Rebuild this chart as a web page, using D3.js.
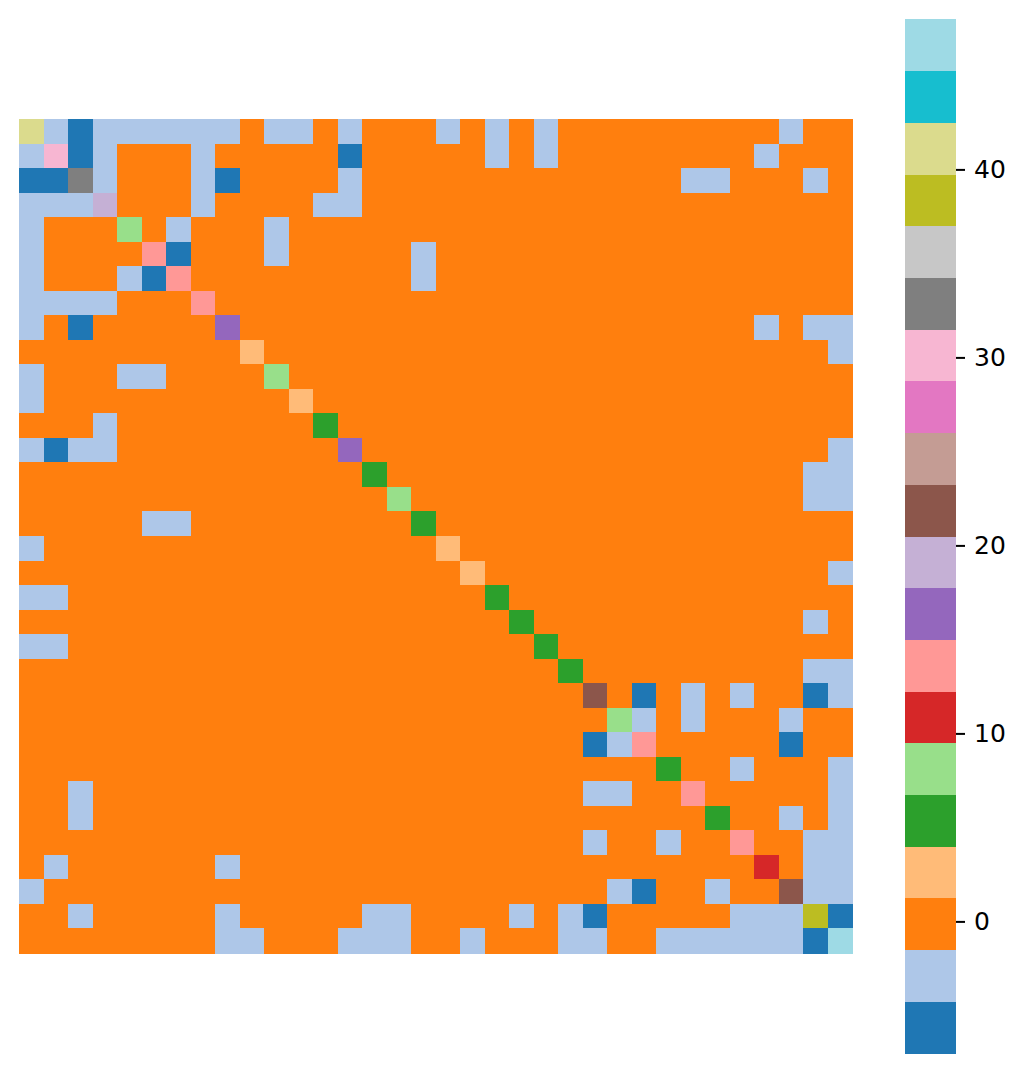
<!DOCTYPE html>
<html>
<head>
<meta charset="utf-8">
<script src="https://cdn.jsdelivr.net/npm/d3@7"></script>
<style>
  html, body { margin: 0; padding: 0; background: #fff; }
  svg { display: block; }
</style>
</head>
<body>
<svg id="heatmap-svg" width="1028" height="1073"></svg>
<script>
// matrix values, 34 x 34, row by row
const matrix = [
  [41,-2,-5,-2,-2,-2,-2,-2,-2, 0,-2,-2, 0,-2, 0, 0, 0,-2, 0,-2, 0,-2, 0, 0, 0, 0, 0, 0, 0, 0, 0,-2, 0, 0],
  [-2,30,-5,-2, 0, 0, 0,-2, 0, 0, 0, 0, 0,-5, 0, 0, 0, 0, 0,-2, 0,-2, 0, 0, 0, 0, 0, 0, 0, 0,-2, 0, 0, 0],
  [-5,-5,33,-2, 0, 0, 0,-2,-5, 0, 0, 0, 0,-2, 0, 0, 0, 0, 0, 0, 0, 0, 0, 0, 0, 0, 0,-2,-2, 0, 0, 0,-2, 0],
  [-2,-2,-2,19, 0, 0, 0,-2, 0, 0, 0, 0,-2,-2, 0, 0, 0, 0, 0, 0, 0, 0, 0, 0, 0, 0, 0, 0, 0, 0, 0, 0, 0, 0],
  [-2, 0, 0, 0, 8, 0,-2, 0, 0, 0,-2, 0, 0, 0, 0, 0, 0, 0, 0, 0, 0, 0, 0, 0, 0, 0, 0, 0, 0, 0, 0, 0, 0, 0],
  [-2, 0, 0, 0, 0,14,-5, 0, 0, 0,-2, 0, 0, 0, 0, 0,-2, 0, 0, 0, 0, 0, 0, 0, 0, 0, 0, 0, 0, 0, 0, 0, 0, 0],
  [-2, 0, 0, 0,-2,-5,14, 0, 0, 0, 0, 0, 0, 0, 0, 0,-2, 0, 0, 0, 0, 0, 0, 0, 0, 0, 0, 0, 0, 0, 0, 0, 0, 0],
  [-2,-2,-2,-2, 0, 0, 0,14, 0, 0, 0, 0, 0, 0, 0, 0, 0, 0, 0, 0, 0, 0, 0, 0, 0, 0, 0, 0, 0, 0, 0, 0, 0, 0],
  [-2, 0,-5, 0, 0, 0, 0, 0,16, 0, 0, 0, 0, 0, 0, 0, 0, 0, 0, 0, 0, 0, 0, 0, 0, 0, 0, 0, 0, 0,-2, 0,-2,-2],
  [ 0, 0, 0, 0, 0, 0, 0, 0, 0, 2, 0, 0, 0, 0, 0, 0, 0, 0, 0, 0, 0, 0, 0, 0, 0, 0, 0, 0, 0, 0, 0, 0, 0,-2],
  [-2, 0, 0, 0,-2,-2, 0, 0, 0, 0, 8, 0, 0, 0, 0, 0, 0, 0, 0, 0, 0, 0, 0, 0, 0, 0, 0, 0, 0, 0, 0, 0, 0, 0],
  [-2, 0, 0, 0, 0, 0, 0, 0, 0, 0, 0, 2, 0, 0, 0, 0, 0, 0, 0, 0, 0, 0, 0, 0, 0, 0, 0, 0, 0, 0, 0, 0, 0, 0],
  [ 0, 0, 0,-2, 0, 0, 0, 0, 0, 0, 0, 0, 5, 0, 0, 0, 0, 0, 0, 0, 0, 0, 0, 0, 0, 0, 0, 0, 0, 0, 0, 0, 0, 0],
  [-2,-5,-2,-2, 0, 0, 0, 0, 0, 0, 0, 0, 0,16, 0, 0, 0, 0, 0, 0, 0, 0, 0, 0, 0, 0, 0, 0, 0, 0, 0, 0, 0,-2],
  [ 0, 0, 0, 0, 0, 0, 0, 0, 0, 0, 0, 0, 0, 0, 5, 0, 0, 0, 0, 0, 0, 0, 0, 0, 0, 0, 0, 0, 0, 0, 0, 0,-2,-2],
  [ 0, 0, 0, 0, 0, 0, 0, 0, 0, 0, 0, 0, 0, 0, 0, 8, 0, 0, 0, 0, 0, 0, 0, 0, 0, 0, 0, 0, 0, 0, 0, 0,-2,-2],
  [ 0, 0, 0, 0, 0,-2,-2, 0, 0, 0, 0, 0, 0, 0, 0, 0, 5, 0, 0, 0, 0, 0, 0, 0, 0, 0, 0, 0, 0, 0, 0, 0, 0, 0],
  [-2, 0, 0, 0, 0, 0, 0, 0, 0, 0, 0, 0, 0, 0, 0, 0, 0, 2, 0, 0, 0, 0, 0, 0, 0, 0, 0, 0, 0, 0, 0, 0, 0, 0],
  [ 0, 0, 0, 0, 0, 0, 0, 0, 0, 0, 0, 0, 0, 0, 0, 0, 0, 0, 2, 0, 0, 0, 0, 0, 0, 0, 0, 0, 0, 0, 0, 0, 0,-2],
  [-2,-2, 0, 0, 0, 0, 0, 0, 0, 0, 0, 0, 0, 0, 0, 0, 0, 0, 0, 5, 0, 0, 0, 0, 0, 0, 0, 0, 0, 0, 0, 0, 0, 0],
  [ 0, 0, 0, 0, 0, 0, 0, 0, 0, 0, 0, 0, 0, 0, 0, 0, 0, 0, 0, 0, 5, 0, 0, 0, 0, 0, 0, 0, 0, 0, 0, 0,-2, 0],
  [-2,-2, 0, 0, 0, 0, 0, 0, 0, 0, 0, 0, 0, 0, 0, 0, 0, 0, 0, 0, 0, 5, 0, 0, 0, 0, 0, 0, 0, 0, 0, 0, 0, 0],
  [ 0, 0, 0, 0, 0, 0, 0, 0, 0, 0, 0, 0, 0, 0, 0, 0, 0, 0, 0, 0, 0, 0, 5, 0, 0, 0, 0, 0, 0, 0, 0, 0,-2,-2],
  [ 0, 0, 0, 0, 0, 0, 0, 0, 0, 0, 0, 0, 0, 0, 0, 0, 0, 0, 0, 0, 0, 0, 0,22, 0,-5, 0,-2, 0,-2, 0, 0,-5,-2],
  [ 0, 0, 0, 0, 0, 0, 0, 0, 0, 0, 0, 0, 0, 0, 0, 0, 0, 0, 0, 0, 0, 0, 0, 0, 8,-2, 0,-2, 0, 0, 0,-2, 0, 0],
  [ 0, 0, 0, 0, 0, 0, 0, 0, 0, 0, 0, 0, 0, 0, 0, 0, 0, 0, 0, 0, 0, 0, 0,-5,-2,14, 0, 0, 0, 0, 0,-5, 0, 0],
  [ 0, 0, 0, 0, 0, 0, 0, 0, 0, 0, 0, 0, 0, 0, 0, 0, 0, 0, 0, 0, 0, 0, 0, 0, 0, 0, 5, 0, 0,-2, 0, 0, 0,-2],
  [ 0, 0,-2, 0, 0, 0, 0, 0, 0, 0, 0, 0, 0, 0, 0, 0, 0, 0, 0, 0, 0, 0, 0,-2,-2, 0, 0,14, 0, 0, 0, 0, 0,-2],
  [ 0, 0,-2, 0, 0, 0, 0, 0, 0, 0, 0, 0, 0, 0, 0, 0, 0, 0, 0, 0, 0, 0, 0, 0, 0, 0, 0, 0, 5, 0, 0,-2, 0,-2],
  [ 0, 0, 0, 0, 0, 0, 0, 0, 0, 0, 0, 0, 0, 0, 0, 0, 0, 0, 0, 0, 0, 0, 0,-2, 0, 0,-2, 0, 0,14, 0, 0,-2,-2],
  [ 0,-2, 0, 0, 0, 0, 0, 0,-2, 0, 0, 0, 0, 0, 0, 0, 0, 0, 0, 0, 0, 0, 0, 0, 0, 0, 0, 0, 0, 0,11, 0,-2,-2],
  [-2, 0, 0, 0, 0, 0, 0, 0, 0, 0, 0, 0, 0, 0, 0, 0, 0, 0, 0, 0, 0, 0, 0, 0,-2,-5, 0, 0,-2, 0, 0,22,-2,-2],
  [ 0, 0,-2, 0, 0, 0, 0, 0,-2, 0, 0, 0, 0, 0,-2,-2, 0, 0, 0, 0,-2, 0,-2,-5, 0, 0, 0, 0, 0,-2,-2,-2,38,-5],
  [ 0, 0, 0, 0, 0, 0, 0, 0,-2,-2, 0, 0, 0,-2,-2,-2, 0, 0,-2, 0, 0, 0,-2,-2, 0, 0,-2,-2,-2,-2,-2,-2,-5,47]
];

// colour range, matplotlib tab20
const tab20 = ['#1f77b4', '#aec7e8', '#ff7f0e', '#ffbb78', '#2ca02c', '#98df8a', '#d62728', '#ff9896',
  '#9467bd', '#c5b0d5', '#8c564b', '#c49c94', '#e377c2', '#f7b6d2', '#7f7f7f', '#c7c7c7',
  '#bcbd22', '#dbdb8d', '#17becf', '#9edae5'];
const vmin = -7;
const vmax = 48;
const colorbarTicks = [0, 10, 20, 30, 40];

const n = matrix.length;
const indices = d3.range(n);

const svg = d3.select('#heatmap-svg');

const xScale = d3.scaleBand().domain(indices).range([19, 852]);
const yScale = d3.scaleBand().domain(indices).range([119, 953]);
const color = d3.scaleQuantize().domain([vmin, vmax]).range(tab20);

const cells = [];
matrix.forEach((row, i) => row.forEach((v, j) => cells.push({row: i, col: j, value: v})));

svg.append('g').attr('shape-rendering', 'crispEdges').selectAll('rect').data(cells).enter().append('rect')
  .attr('x', (d) => xScale(d.col))
  .attr('y', (d) => yScale(d.row))
  .attr('width', xScale.bandwidth() + 0.5)
  .attr('height', yScale.bandwidth() + 0.5)
  .attr('fill', (d) => color(d.value));

// colorbar
const barLeft = 905;
const barWidth = 51;
const barScale = d3.scaleLinear().domain([vmin, vmax]).range([1053, 19]);
const step = (vmax - vmin) / tab20.length;

svg.append('g').attr('shape-rendering', 'crispEdges').selectAll('rect').data(tab20).enter().append('rect')
  .attr('x', barLeft)
  .attr('y', (d, i) => barScale(vmin + step * (i + 1)))
  .attr('width', barWidth)
  .attr('height', (d, i) => barScale(vmin + step * i) - barScale(vmin + step * (i + 1)) + 0.5)
  .attr('fill', (d) => d);

const barAxis = d3.axisRight(barScale).tickValues(colorbarTicks).tickSize(9).tickPadding(9);
const barAxisGroup = svg.append('g').attr('transform', `translate(${barLeft + barWidth}, 0)`);
barAxisGroup.call(barAxis);
barAxisGroup.select('.domain').remove();
barAxisGroup.selectAll('line').attr('stroke', '#000').attr('stroke-width', 2);
barAxisGroup.selectAll('text').attr('fill', '#000').style('font-family', 'DejaVu Sans').style('font-size', '25px');
</script>
</body>
</html>
